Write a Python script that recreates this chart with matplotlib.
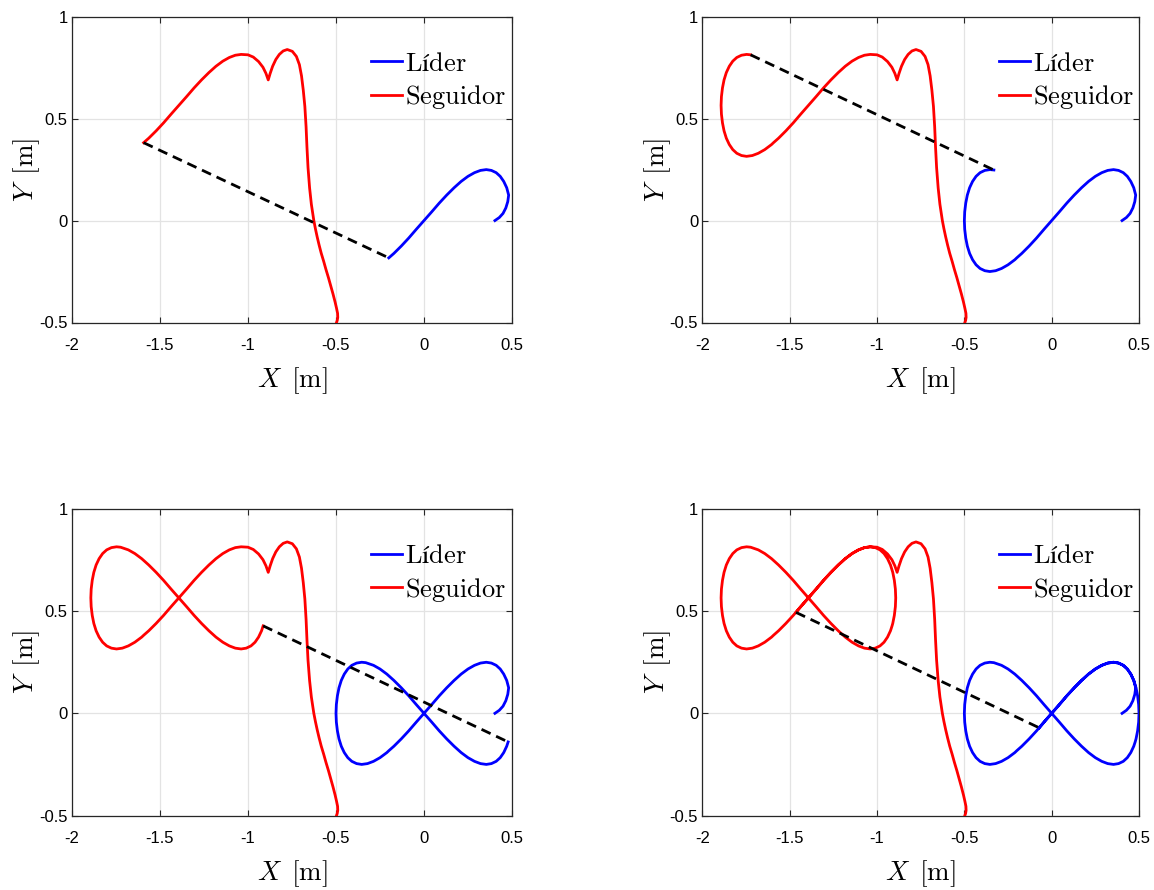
import matplotlib
matplotlib.use("Agg")
import matplotlib.pyplot as plt

plt.rcParams['axes.unicode_minus'] = False
plt.rcParams['mathtext.fontset'] = 'cm'

# ---------------- data ----------------
x_ticks = [-2, -1.5, -1, -0.5, 0, 0.5]
x_tick_labels = ['-2', '-1.5', '-1', '-0.5', '0', '0.5']
y_ticks = [-0.5, 0, 0.5, 1]
y_tick_labels = ['-0.5', '0', '0.5', '1']
legend_labels = ['$\\mathrm{Líder}$', '$\\mathrm{Seguidor}$']
x_label = '$X\\ \\,\\mathrm{[m]}$'
y_label = '$Y\\ \\,\\mathrm{[m]}$'

# Leader trajectory, split into the portions added in each snapshot
lider_x1 = [0.403, 0.428, 0.449, 0.465, 0.476, 0.481, 0.470, 0.453, 0.433, 0.410, 0.383,
            0.354, 0.321, 0.287, 0.250, 0.211, 0.171, 0.129, 0.087, 0.044, 0.000,
            -0.044, -0.087, -0.129, -0.171, -0.200]
lider_y1 = [0.000, 0.015, 0.035, 0.062, 0.093, 0.125, 0.161, 0.192, 0.217, 0.235, 0.246,
            0.250, 0.246, 0.235, 0.217, 0.192, 0.161, 0.125, 0.086, 0.043, 0.000,
            -0.043, -0.086, -0.125, -0.161, -0.183]
lider_x2 = [-0.211, -0.250, -0.287, -0.321, -0.354, -0.383, -0.410, -0.433, -0.453, -0.470,
            -0.483, -0.492, -0.498, -0.500, -0.498, -0.492, -0.483, -0.470, -0.453, -0.433,
            -0.410, -0.383, -0.354, -0.331]
lider_y2 = [-0.192, -0.217, -0.235, -0.246, -0.250, -0.246, -0.235, -0.217, -0.192, -0.161,
            -0.125, -0.086, -0.043, 0.000, 0.043, 0.086, 0.125, 0.161, 0.192, 0.217,
            0.235, 0.246, 0.250, 0.248]
lider_x3 = [-0.287, -0.250, -0.211, -0.171, -0.129, -0.087, -0.044, 0.000, 0.044, 0.087,
            0.129, 0.171, 0.211, 0.250, 0.287, 0.321, 0.354, 0.383, 0.410, 0.433, 0.453,
            0.470, 0.478]
lider_y3 = [0.235, 0.217, 0.192, 0.161, 0.125, 0.086, 0.043, 0.000, -0.043, -0.086,
            -0.125, -0.161, -0.192, -0.217, -0.235, -0.246, -0.250, -0.246, -0.235, -0.217,
            -0.192, -0.161, -0.140]
lider_x4 = [0.483, 0.492, 0.498, 0.500, 0.498, 0.492, 0.483, 0.470, 0.453, 0.433, 0.410,
            0.383, 0.354, 0.321, 0.287, 0.250, 0.211, 0.171, 0.129, 0.087, 0.044, 0.000,
            -0.044, -0.071]
lider_y4 = [-0.125, -0.086, -0.043, 0.000, 0.043, 0.086, 0.125, 0.161, 0.192, 0.217, 0.235,
            0.246, 0.250, 0.246, 0.235, 0.217, 0.192, 0.161, 0.125, 0.086, 0.043, 0.000,
            -0.043, -0.071]

# Follower trajectory, split the same way
seg_x1 = [-0.497, -0.493, -0.490, -0.491, -0.497, -0.505, -0.517, -0.530, -0.543, -0.557,
          -0.570, -0.584, -0.596, -0.607, -0.617, -0.626, -0.640, -0.650, -0.659, -0.665,
          -0.670, -0.677, -0.686, -0.696, -0.708, -0.725, -0.748, -0.777, -0.800, -0.822,
          -0.842, -0.860, -0.874, -0.885, -0.898, -0.915, -0.940, -0.970, -1.000, -1.039,
          -1.072, -1.106, -1.143, -1.182, -1.222, -1.264, -1.306, -1.349, -1.393, -1.437,
          -1.480, -1.522, -1.564, -1.593]
seg_y1 = [-0.500, -0.490, -0.475, -0.455, -0.430, -0.400, -0.360, -0.320, -0.280, -0.240,
          -0.200, -0.160, -0.120, -0.080, -0.040, 0.000, 0.080, 0.160, 0.260, 0.360,
          0.460, 0.560, 0.640, 0.710, 0.765, 0.805, 0.830, 0.839, 0.832, 0.815,
          0.790, 0.757, 0.722, 0.690, 0.722, 0.752, 0.780, 0.802, 0.813, 0.815,
          0.811, 0.800, 0.782, 0.757, 0.726, 0.690, 0.651, 0.608, 0.565, 0.522,
          0.479, 0.440, 0.404, 0.382]
seg_x2 = [-1.604, -1.643, -1.680, -1.714, -1.747, -1.776, -1.803, -1.826, -1.846, -1.863,
          -1.876, -1.885, -1.891, -1.893, -1.891, -1.885, -1.876, -1.863, -1.846, -1.826,
          -1.803, -1.776, -1.747, -1.724]
seg_y2 = [0.373, 0.348, 0.330, 0.319, 0.315, 0.319, 0.330, 0.348, 0.373, 0.404,
          0.440, 0.479, 0.522, 0.565, 0.608, 0.651, 0.690, 0.726, 0.757, 0.782,
          0.800, 0.811, 0.815, 0.813]
seg_x3 = [-1.680, -1.643, -1.604, -1.564, -1.522, -1.480, -1.437, -1.393, -1.349, -1.306,
          -1.264, -1.222, -1.182, -1.143, -1.106, -1.072, -1.039, -1.010, -0.983, -0.960,
          -0.940, -0.923, -0.914]
seg_y3 = [0.800, 0.782, 0.757, 0.726, 0.690, 0.651, 0.608, 0.565, 0.522, 0.479,
          0.440, 0.404, 0.373, 0.348, 0.330, 0.319, 0.315, 0.319, 0.330, 0.348,
          0.373, 0.404, 0.428]
seg_x4 = [-0.910, -0.901, -0.895, -0.893, -0.895, -0.901, -0.910, -0.923, -0.940, -0.960,
          -0.983, -1.010, -1.039, -1.072, -1.106, -1.143, -1.182, -1.222, -1.264, -1.306,
          -1.349, -1.393, -1.437, -1.464]
seg_y4 = [0.440, 0.479, 0.522, 0.565, 0.608, 0.651, 0.690, 0.726, 0.757, 0.782,
          0.800, 0.811, 0.815, 0.811, 0.800, 0.782, 0.757, 0.726, 0.690, 0.651,
          0.608, 0.565, 0.522, 0.494]

lider_segs = [(lider_x1, lider_y1), (lider_x2, lider_y2), (lider_x3, lider_y3), (lider_x4, lider_y4)]
seg_segs = [(seg_x1, seg_y1), (seg_x2, seg_y2), (seg_x3, seg_y3), (seg_x4, seg_y4)]

# ---------------- figure ----------------
W, H = 1154, 890
fig = plt.figure(figsize=(W / 100, H / 100), dpi=100)

# axes boxes in pixels: (left, right, top, bottom)
boxes = [(72, 512, 16.7, 322.5), (702.4, 1139, 16.7, 322.5),
         (72, 512, 509, 815.5), (702.4, 1139, 509, 815.5)]

tick_font = ['Liberation Sans', 'DejaVu Sans']
axis_col = '#262626'

for k, (l, r, t, b) in enumerate(boxes):
    ax = fig.add_axes([l / W, 1 - b / H, (r - l) / W, (b - t) / H])
    lx, ly, fx, fy = [], [], [], []
    for i in range(k + 1):
        lx += list(lider_segs[i][0]); ly += list(lider_segs[i][1])
        fx += list(seg_segs[i][0]); fy += list(seg_segs[i][1])
    ax.plot(lx, ly, color='#0000ff', lw=2.0, label=legend_labels[0],
            solid_joinstyle='round', zorder=3)
    ax.plot(fx, fy, color='#ff0000', lw=2.0, label=legend_labels[1],
            solid_joinstyle='round', zorder=3)
    ax.plot([fx[-1], lx[-1]], [fy[-1], ly[-1]], color='black', lw=2.0,
            linestyle=(0, (3.6, 2.2)), zorder=4)

    ax.set_xlim(-2, 0.5)
    ax.set_ylim(-0.5, 1)
    ax.set_xticks(x_ticks)
    ax.set_xticklabels(x_tick_labels, fontfamily=tick_font, fontsize=12)
    ax.set_yticks(y_ticks)
    ax.set_yticklabels(y_tick_labels, fontfamily=tick_font, fontsize=12)
    ax.tick_params(direction='in', length=4, width=0.8, top=True, right=True,
                   colors=axis_col, labelcolor='black')
    ax.tick_params(axis='x', pad=11)
    ax.tick_params(axis='y', pad=3)
    ax.grid(True, color='#e3e3e3', lw=0.9, zorder=0)
    ax.set_axisbelow(True)
    for s in ax.spines.values():
        s.set_color(axis_col)
        s.set_linewidth(0.9)

    ax.set_xlabel(x_label, fontsize=19.5, labelpad=9)
    ax.set_ylabel(y_label, fontsize=19.5, labelpad=-2)

    ax.legend(loc='upper left', bbox_to_anchor=(0.68, 0.889), frameon=False,
              fontsize=19, handlelength=1.15, handletextpad=0.12,
              borderpad=0, borderaxespad=0, labelspacing=0.25)

fig.savefig('out.png', dpi=100)
